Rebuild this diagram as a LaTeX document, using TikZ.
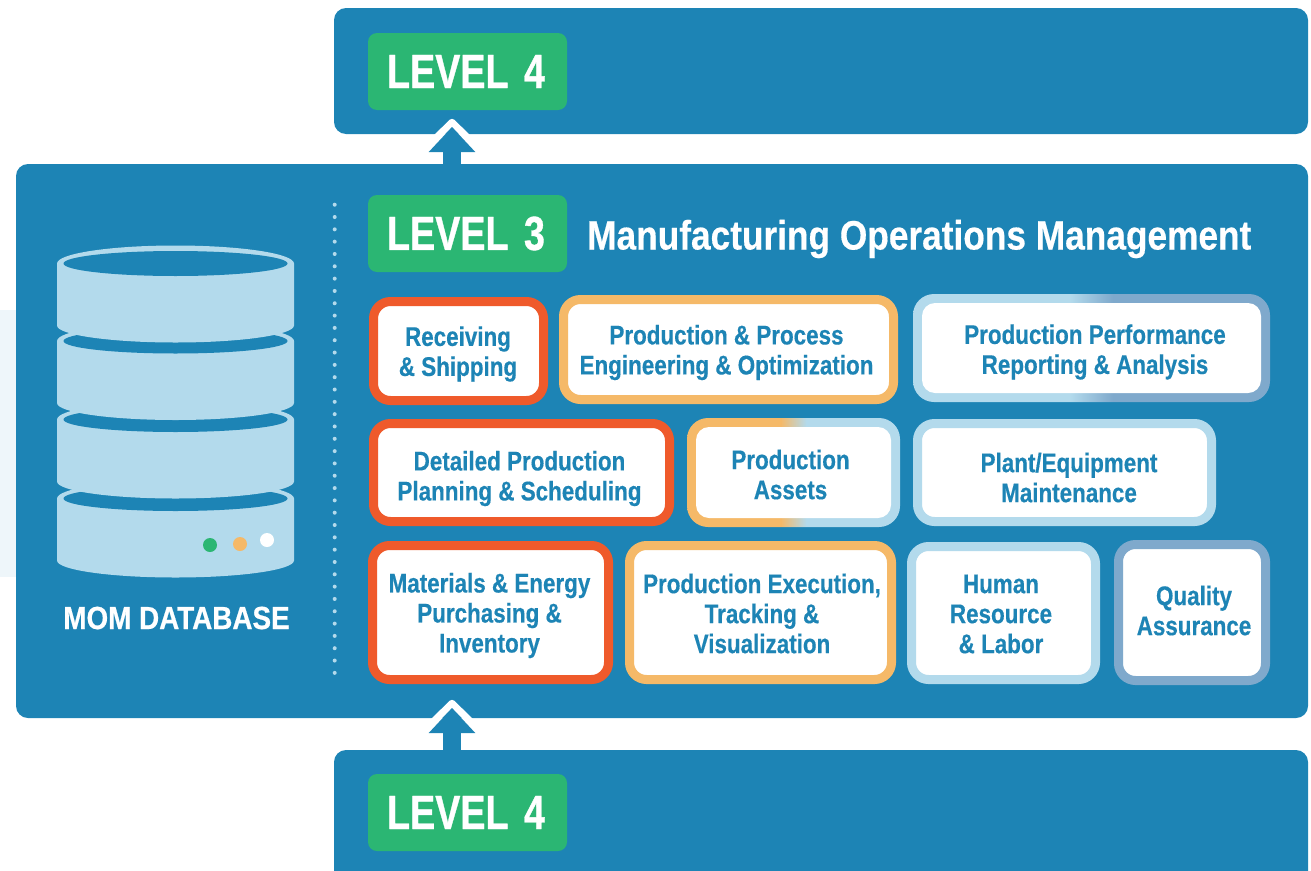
\documentclass[tikz,border=0pt]{standalone}
\usepackage{fontspec}
\usetikzlibrary{arrows.meta}
\newfontfamily\cellfont{Liberation Sans}[FakeStretch=0.83,FakeBold=0.4]
\newfontfamily\levelfont{Liberation Sans}[FakeStretch=0.785,FakeBold=0.7]
\newfontfamily\titlefont{Liberation Sans}[FakeStretch=0.86,FakeBold=0.4]
\newfontfamily\dbfont{Liberation Sans}[FakeStretch=0.87,FakeBold=0.6]
\definecolor{panelblue}{HTML}{1D84B5}
\definecolor{levelgreen}{HTML}{2BB673}
\definecolor{redborder}{HTML}{EF5A2B}
\definecolor{orangeborder}{HTML}{F5B968}
\definecolor{lightborder}{HTML}{B3DAEC}
\definecolor{steelborder}{HTML}{7FA9CC}
\definecolor{palebg}{HTML}{EEF6FA}
\pgfdeclarehorizontalshading{perfshade}{100bp}{color(0bp)=(lightborder); color(47bp)=(lightborder); color(53bp)=(steelborder); color(100bp)=(steelborder)}
\pgfdeclarehorizontalshading{assetshade}{100bp}{color(0bp)=(orangeborder); color(47bp)=(orangeborder); color(53bp)=(lightborder); color(100bp)=(lightborder)}
\tikzset{
  panel/.style={fill=panelblue,rounded corners=12pt,inner sep=0pt,outer sep=0pt},
  levelbox/.style={fill=levelgreen,rounded corners=9pt,inner sep=0pt,minimum width=199pt,minimum height=77pt},
  leveltext/.style={inner sep=0pt,text=white,font=\levelfont\bfseries\fontsize{48}{50}\selectfont},
  cell/.style={fill=white,rounded corners=17pt,inner sep=0pt,line width=9pt},
  innercell/.style={fill=white,draw=none,rounded corners=13pt,inner sep=0pt},
  celltext/.style={inner sep=0pt,align=center,text=panelblue,font=\cellfont\bfseries\fontsize{27}{30}\selectfont},
  disk/.style={fill=lightborder},
  hole/.style={fill=panelblue},
  levelarrow/.style={draw=panelblue,line width=18pt,-{Triangle[length=25pt,width=45pt,fill=panelblue]}},
  chevron/.style={draw=white,line width=7pt,line join=round},
  dotline/.style={draw=lightborder,line width=4pt,line cap=round,dash pattern=on 0pt off 12.32pt},
}
\newcommand{\celltextat}[4]{% name dx dy text
  \node[celltext] (#1text) at ([shift={(#2,#3)}]#1.center) {#4};}
\newcommand{\cellbox}[6]{% name x1 y1 x2 y2 colour
  \pgfmathsetmacro{\cx}{(#2+#4)/2}\pgfmathsetmacro{\cy}{(#3+#5)/2}
  \pgfmathsetmacro{\cw}{#4-#2-9}\pgfmathsetmacro{\ch}{#5-#3-9}
  \node[cell,draw=#6,minimum width=\cw pt,minimum height=\ch pt] (#1) at (\cx,\cy) {};}
\newcommand{\gradbox}[6]{% name x1 y1 x2 y2 shading
  \path[shading=#6,rounded corners=21pt] (#2,#3) rectangle (#4,#5);
  \pgfmathsetmacro{\cx}{(#2+#4)/2}\pgfmathsetmacro{\cy}{(#3+#5)/2}
  \pgfmathsetmacro{\cw}{#4-#2-18}\pgfmathsetmacro{\ch}{#5-#3-18}
  \node[innercell,minimum width=\cw pt,minimum height=\ch pt] (#1) at (\cx,\cy) {};}
\newcommand{\diskshape}[1]{% y of the ellipse centre
  \fill[disk] (57,#1) arc[start angle=180,end angle=360,x radius=118.5,y radius=18]
     -- (294,#1+62) arc[start angle=0,end angle=180,x radius=118.5,y radius=17] -- cycle;
  \fill[hole] (175.5,#1) ellipse[x radius=112,y radius=12.5];}
\begin{document}
\begin{tikzpicture}[x=1pt,y=-1pt]
\useasboundingbox (0,0) rectangle (1311,870);
\fill[palebg] (0,310) rectangle (20,577);
% panels
\node[panel,minimum width=974pt,minimum height=126pt] (top) at (821,71) {};
\node[panel,minimum width=1292pt,minimum height=554pt] (mid) at (662,441) {};
\begin{scope}
\clip (0,0) rectangle (1311,870);
\fill[panelblue,rounded corners=12pt] (334,890) -- (334,750) -- (1308,750) -- (1308,890) -- cycle;
\end{scope}
\coordinate (bottomedge) at (452,751);
% arrows
\coordinate (tipA) at (452,127);
\coordinate (tipB) at (452,708);
\coordinate (midtop) at (452,165);
\draw[chevron] (430,144) -- (452,122.3) -- (474,144);
\draw[levelarrow] (midtop) -- (tipA);
\draw[chevron] (430,725) -- (452,703.3) -- (474,725);
\draw[levelarrow] (bottomedge) -- (tipB);
% level labels
\node[levelbox] (l4top) at (467.5,71.5) {};
\node[levelbox] (l3) at (467.5,233.5) {};
\node[levelbox] (l4bot) at (467.5,812.5) {};
\node[leveltext] (l4toptext) at ([xshift=-1.5pt]l4top.center) {LEVEL\kern5pt{} 4};
\node[leveltext] (l3text) at ([xshift=-1.5pt]l3.center) {LEVEL\kern5pt{} 3};
\node[leveltext] (l4bottext) at ([xshift=-1.5pt]l4bot.center) {LEVEL\kern5pt{} 4};
\node[anchor=west,inner sep=0pt,text=white,font=\titlefont\bfseries\fontsize{41}{44}\selectfont] (title) at (587,239) {Manufacturing Operations Management};
% database
\diskshape{498.5}
\diskshape{419.5}
\diskshape{341}
\diskshape{263.5}
\fill[levelgreen] (210,545) circle[radius=7];
\fill[orangeborder] (240,544) circle[radius=7];
\fill[white] (267,540) circle[radius=7];
\node[text=white,inner sep=0pt,font=\dbfont\bfseries\fontsize{32}{36}\selectfont] (dbname) at (176.5,618) {MOM DATABASE};
% dotted divider
\coordinate (dotA) at (334.7,204.7);
\coordinate (dotB) at (334.7,674);
\draw[dotline] (dotA) -- (dotB);
% cells
\cellbox{recv}{369}{297}{548}{405}{redborder}
\celltextat{recv}{-0.5}{3}{Receiving\\\& Shipping}
\cellbox{proc}{559}{295}{898}{404}{orangeborder}
\celltextat{proc}{-2}{3}{Production \& Process\\Engineering \& Optimization}
\gradbox{perf}{913}{294}{1270}{402}{perfshade}
\celltextat{perf}{3.5}{4}{Production Performance\\Reporting \& Analysis}
\cellbox{plan}{369}{419}{674}{526}{redborder}
\celltextat{plan}{-2}{6}{Detailed Production\\Planning \& Scheduling}
\gradbox{asset}{687}{418}{900}{527}{assetshade}
\celltextat{asset}{-3}{2}{Production\\Assets}
\cellbox{plant}{913}{419}{1216}{526}{lightborder}
\celltextat{plant}{4.5}{5}{Plant/Equipment\\Maintenance}
\cellbox{mat}{368}{541}{613}{684}{redborder}
\celltextat{mat}{-1}{3}{Materials \& Energy\\Purchasing \&\\Inventory}
\cellbox{exec}{625}{541}{896}{684}{orangeborder}
\celltextat{exec}{1.5}{1}{Production Execution,\\Tracking \&\\Visualization}
\cellbox{human}{907}{542}{1100}{684}{lightborder}
\celltextat{human}{-2.5}{1}{Human\\Resource\\\& Labor}
\cellbox{qual}{1114}{540}{1270}{685}{steelborder}
\celltextat{qual}{2}{-2}{Quality\\Assurance}
\end{tikzpicture}
\end{document}
